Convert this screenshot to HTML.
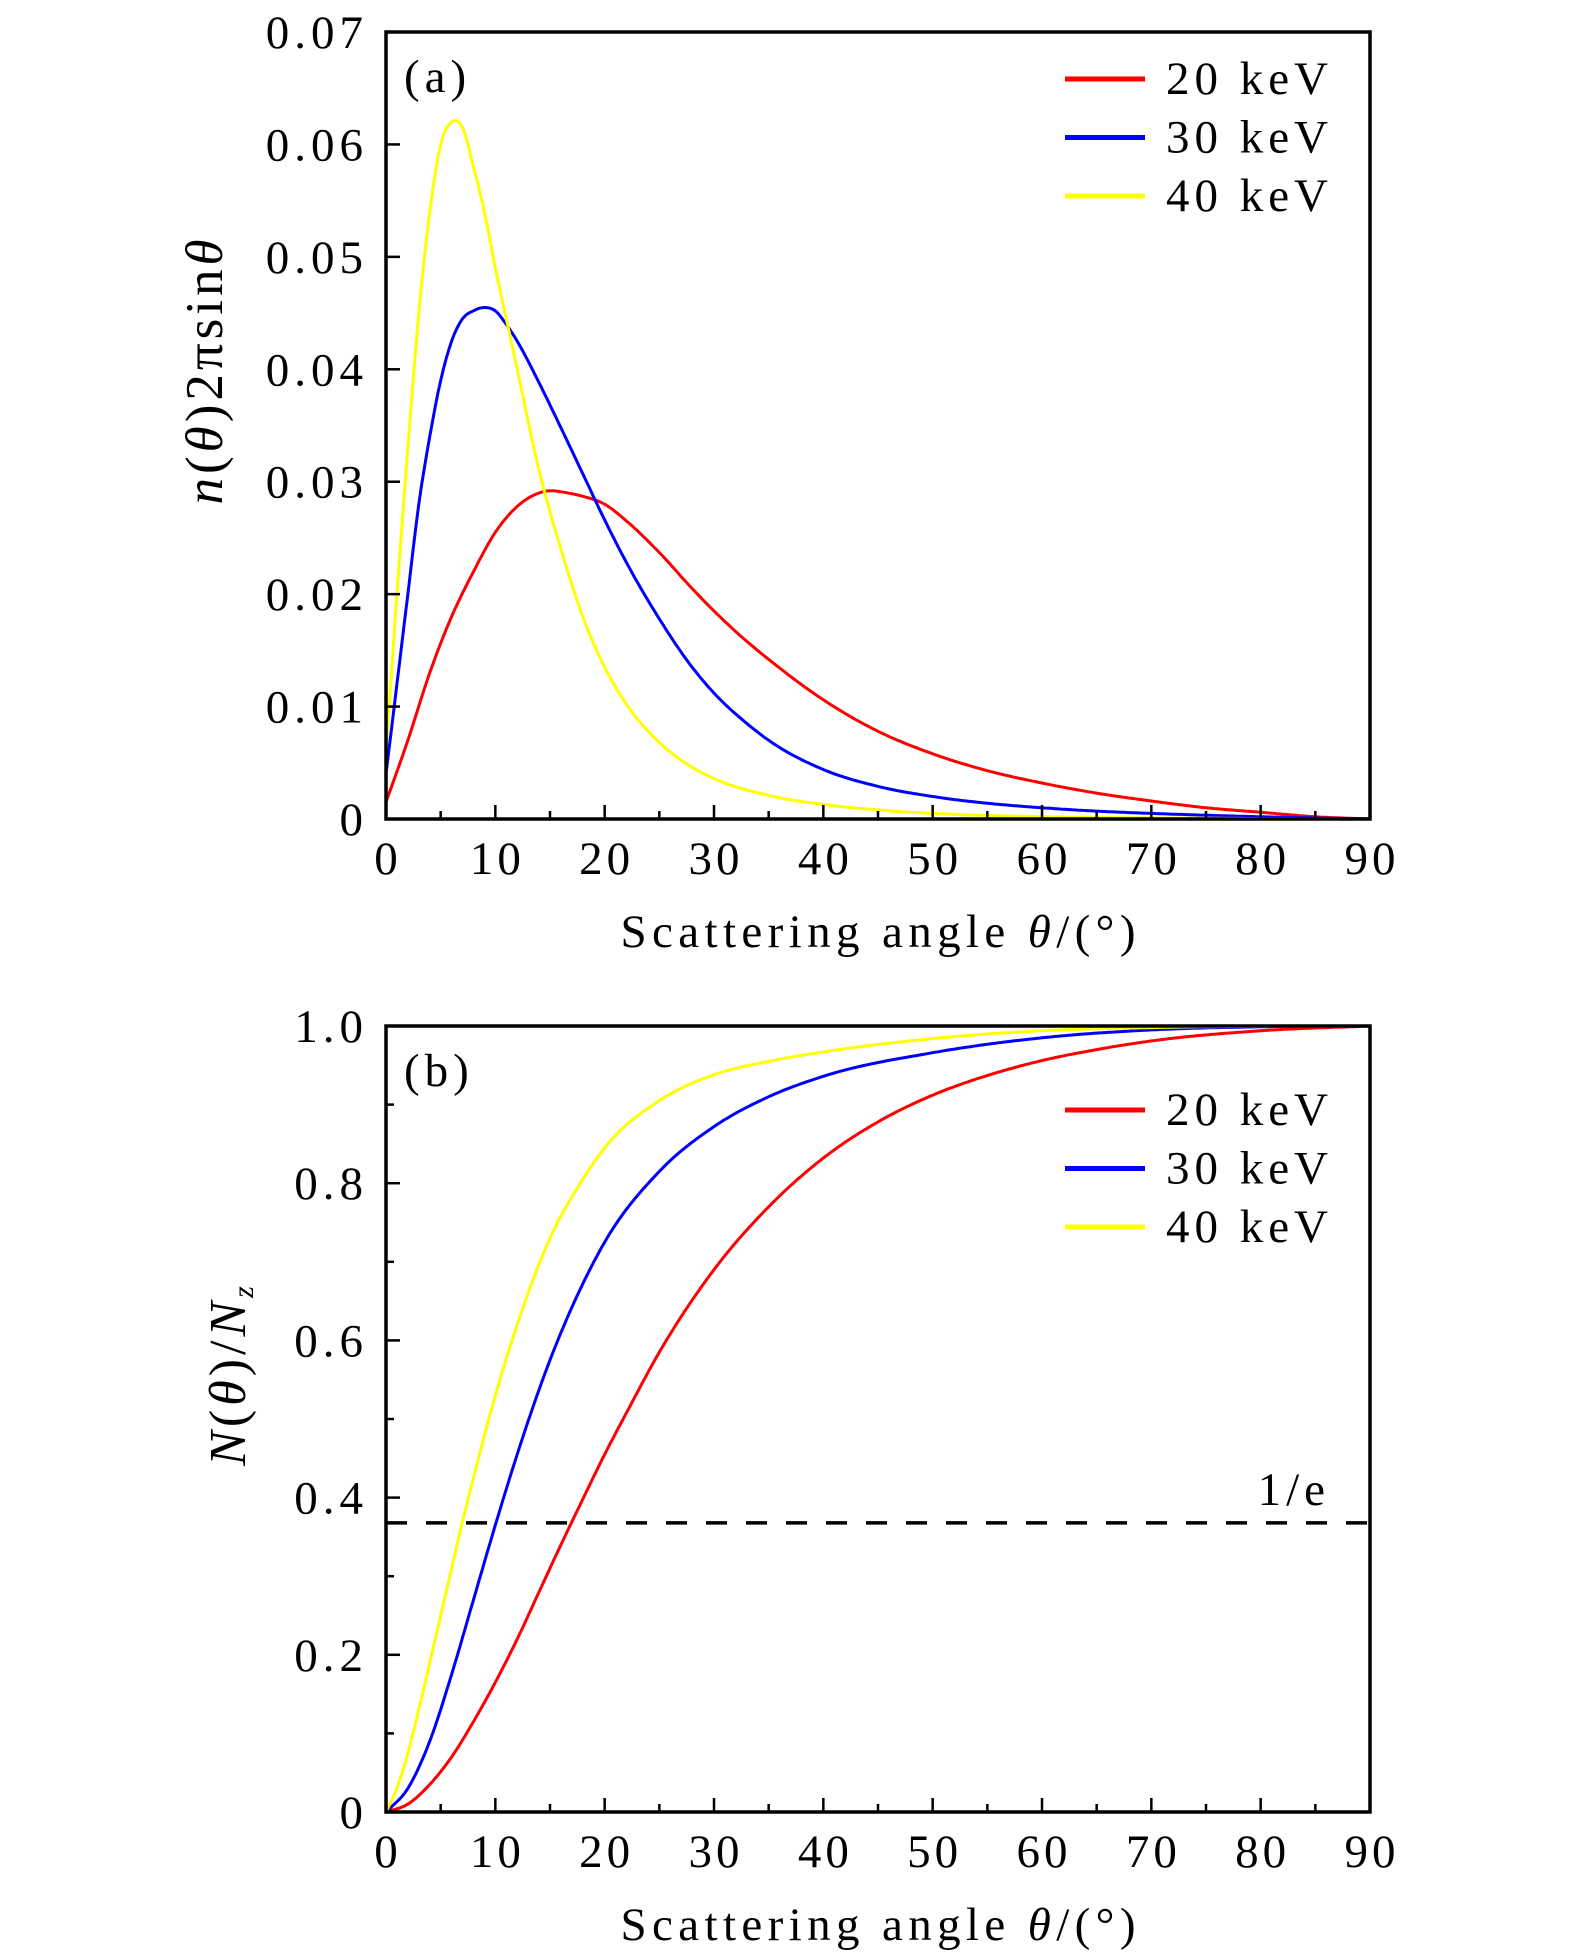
<!DOCTYPE html>
<html><head><meta charset="utf-8"><style>
html,body{margin:0;padding:0;background:#fff;}
svg{display:block;}
text{font-family:"Liberation Serif",serif;fill:#000;}
</style></head><body>
<svg id="chart" width="1575" height="1959" viewBox="0 0 1575 1959" xmlns="http://www.w3.org/2000/svg"></svg>
<script>
// ---- data ----
const thetaRedA = [0,2,4,6,8,10,12,14,15,16,18,20,22,25,28,30,33,35,40,45,50,55,60,65,70,75,80,85,90];
const redA = [0.0015,0.007,0.013,0.018,0.022,0.0255,0.0278,0.029,0.0292,0.0291,0.0287,0.028,0.0265,0.0237,0.0205,0.0185,0.0158,0.0142,0.0106,0.0078,0.0058,0.0043,0.0032,0.0023,0.0016,0.0010,0.0006,0.0002,0];
const thetaBlueA = [0,1,2,3,4,5,6,7,8,9,10,11,12,14,16,18,20,22,25,28,30,33,35,40,45,50,55,60,65,70,80,90];
const blueA = [0.004,0.012,0.02,0.028,0.034,0.039,0.0425,0.0445,0.0452,0.0455,0.0452,0.044,0.0425,0.0388,0.0348,0.0307,0.0266,0.0228,0.0178,0.0135,0.0112,0.0085,0.0070,0.0044,0.0029,0.002,0.0014,0.001,0.0007,0.0005,0.0002,0];
const thetaYellowA = [0,1,2,3,4,5,6,7,8,9,10,11,12,14,16,18,20,22,25,28,30,35,40,45,50,60,70,90];
const yellowA = [0.006,0.02,0.033,0.045,0.054,0.06,0.062,0.0615,0.058,0.054,0.049,0.0445,0.04,0.031,0.024,0.018,0.0135,0.0102,0.0068,0.0046,0.0036,0.0021,0.0013,0.0008,0.0005,0.0002,0.0001,0];

const thetaRedB = [0,2,4,6,8,10,12,14,16,18,20,22,25,30,35,40,45,50,55,60,65,70,80,90];
const redB = [0,0.01,0.035,0.07,0.115,0.165,0.22,0.28,0.34,0.398,0.455,0.508,0.585,0.69,0.77,0.832,0.878,0.912,0.937,0.956,0.97,0.981,0.994,1];
const thetaBlueB = [0,2,4,6,8,10,12,15,18,20,25,30,35,40,50,60,70,80,90];
const blueB = [0,0.03,0.09,0.175,0.27,0.365,0.455,0.575,0.672,0.725,0.815,0.872,0.91,0.936,0.966,0.985,0.995,0.999,1];
const thetaYellowB = [0,1,2,3,4,5,6,7,8,10,12,15,18,20,25,30,35,40,50,60,70,90];
const yellowB = [0,0.03,0.075,0.13,0.19,0.25,0.31,0.37,0.425,0.53,0.62,0.73,0.805,0.845,0.905,0.938,0.955,0.967,0.984,0.994,0.998,1];
const invE = 0.3679;

const xTicks = [0,10,20,30,40,50,60,70,80,90];
const yTicksA = [0,0.01,0.02,0.03,0.04,0.05,0.06,0.07];
const yTickLabelsA = ["0","0.01","0.02","0.03","0.04","0.05","0.06","0.07"];
const yTicksB = [0,0.2,0.4,0.6,0.8,1.0];
const yTickLabelsB = ["0","0.2","0.4","0.6","0.8","1.0"];
const legendLabels = ["20 keV","30 keV","40 keV"];
const colors = ["#ff0000","#0000ff","#ffff00"];

// ---- drawing ----
const NS="http://www.w3.org/2000/svg";
const svg=document.getElementById('chart');
function mk(tag,attrs,parent){const e=document.createElementNS(NS,tag);for(const k in attrs)e.setAttribute(k,attrs[k]);(parent||svg).appendChild(e);return e;}
const L=386,R=1370;
const xs=t=>L+(t/90)*(R-L);

function interp(xa,ya){
  const n=xa.length,m=[];
  for(let i=0;i<n;i++){
    if(i===0)m.push((ya[1]-ya[0])/(xa[1]-xa[0]));
    else if(i===n-1)m.push((ya[n-1]-ya[n-2])/(xa[n-1]-xa[n-2]));
    else{
      const h0=xa[i]-xa[i-1],h1=xa[i+1]-xa[i];
      const d0=(ya[i]-ya[i-1])/h0,d1=(ya[i+1]-ya[i])/h1;
      m.push((h1*d0+h0*d1)/(h0+h1));
    }
  }
  const out=[];
  for(let i=0;i<n-1;i++){
    const h=xa[i+1]-xa[i],steps=Math.max(4,Math.ceil(h*4));
    for(let s=0;s<steps;s++){
      const t=s/steps,t2=t*t,t3=t2*t;
      const y=(2*t3-3*t2+1)*ya[i]+(t3-2*t2+t)*h*m[i]+(-2*t3+3*t2)*ya[i+1]+(t3-t2)*h*m[i+1];
      out.push([xa[i]+t*h,y]);
    }
  }
  out.push([xa[n-1],ya[n-1]]);
  return out;
}

function panel(opt){
  const g=mk('g',{});
  
  
  const T=opt.top,B=opt.bottom;
  const ys=v=>B-(v/opt.ymax)*(B-T);
  opt.series.forEach((s,i)=>{
    const pts=interp(s.x,s.y).map(p=>xs(p[0]).toFixed(1)+','+ys(p[1]).toFixed(1)).join(' ');
    const p=mk('polyline',{points:pts,fill:'none',stroke:colors[i],'stroke-width':3,'stroke-linejoin':'round'},g);
    
    
  });
  const f=mk('rect',{x:L,y:T,width:R-L,height:B-T,fill:'none',stroke:'#000','stroke-width':3.5},g);
  
  
  for(let t=0;t<=90;t+=5){
    const major=t%10===0;
    mk('line',{x1:xs(t),x2:xs(t),y1:B,y2:B-(major?14:8),stroke:'#000','stroke-width':2.5},g);
  }
  xTicks.forEach(t=>{
    const tx=mk('text',{x:xs(t)+2,y:B+55,'font-size':47,'text-anchor':'middle','letter-spacing':4},g);
    tx.textContent=t;
    
    
  });
  opt.yMinor.forEach(v=>{mk('line',{x1:L,x2:L+8,y1:ys(v),y2:ys(v),stroke:'#000','stroke-width':2.5},g);});
  opt.yt.forEach((v,i)=>{
    mk('line',{x1:L,x2:L+14,y1:ys(v),y2:ys(v),stroke:'#000','stroke-width':2.5},g);
    const tx=mk('text',{x:368,y:ys(v)+16,'font-size':47,'text-anchor':'end','letter-spacing':5},g);
    tx.textContent=opt.ytl[i];
    
    
  });
  const xt=mk('text',{x:878,y:B+128,'font-size':47,'text-anchor':'middle',textLength:515,lengthAdjust:'spacing'},g);
  xt.innerHTML='Scattering angle <tspan font-style="italic">θ</tspan>/(°)';
  
  
  const yt=mk('text',{x:0,y:0,'font-size':opt.ytfs,'text-anchor':'middle','letter-spacing':4,transform:`translate(${opt.ytx},${opt.ytc}) rotate(-90)`},g);
  yt.innerHTML=opt.ytitle;
  
  
  const pl=mk('text',{x:404,y:T+60,'font-size':47,'letter-spacing':5},g);
  pl.textContent=opt.label;
  
  
  legendLabels.forEach((lab,i)=>{
    const ly=opt.legY+i*58.5;
    const lg=mk('g',{},g);
    
    
    mk('line',{x1:1065,x2:1145,y1:ly,y2:ly,stroke:colors[i],'stroke-width':5},lg);
    const t=mk('text',{x:1166,y:ly+15,'font-size':47,textLength:162,lengthAdjust:'spacing'},lg);
    t.textContent=lab;
  });
  return {g,ys};
}

panel({name:'panel-a',prefix:'a',top:32,bottom:819,ymax:0.07,yt:yTicksA,ytl:yTickLabelsA,yMinor:[],
  series:[{x:thetaRedA,y:redA},{x:thetaBlueA,y:blueA},{x:thetaYellowA,y:yellowA}],
  ytx:222,ytc:370,ytfs:53,ytitle:'<tspan font-style="italic">n</tspan>(<tspan font-style="italic">θ</tspan>)2πsin<tspan font-style="italic">θ</tspan>',label:'(a)',legY:79});

const pb=panel({name:'panel-b',prefix:'b',top:1026,bottom:1812,ymax:1.0,yt:yTicksB,ytl:yTickLabelsB,yMinor:[0.1,0.3,0.5,0.7,0.9],
  series:[{x:thetaRedB,y:redB},{x:thetaBlueB,y:blueB},{x:thetaYellowB,y:yellowB}],
  ytx:245,ytc:1374,ytfs:52,ytitle:'<tspan font-style="italic">N</tspan>(<tspan font-style="italic">θ</tspan>)/<tspan font-style="italic">N</tspan><tspan font-size="30" font-style="italic" dy="8">z</tspan>',label:'(b)',legY:1110});

const dl=mk('line',{x1:L,x2:R,y1:pb.ys(invE),y2:pb.ys(invE),stroke:'#000','stroke-width':3.5,'stroke-dasharray':'21 19'},pb.g);


const el=mk('text',{x:1330,y:pb.ys(invE)-18,'font-size':47,'text-anchor':'end','letter-spacing':5},pb.g);
el.textContent='1/e';


</script>
</body></html>
